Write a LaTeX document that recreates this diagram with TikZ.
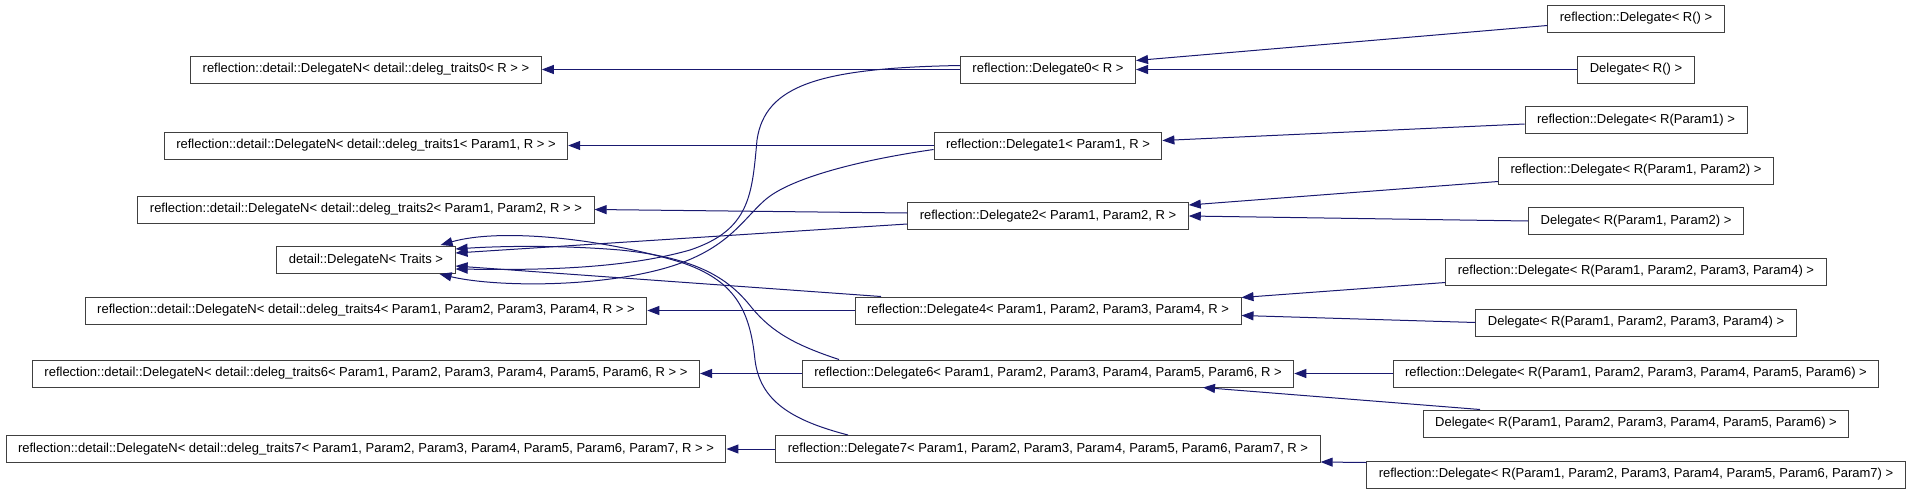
\documentclass[tikz,border=0pt]{standalone}
\usepackage{fontspec}
\setmainfont{Liberation Sans}
\usepackage{xcolor}
\usepackage{tikz}
\usetikzlibrary{arrows.meta,calc}

\definecolor{edgeblue}{HTML}{191970}

\begin{document}
\begin{tikzpicture}[
    x=1pt, y=-1pt,
    cls/.style={draw=black!75, fill=white, line width=1pt, inner xsep=12pt, inner ysep=0pt, minimum height=27pt, font=\fontsize{13}{15}\selectfont},
    edge/.style={-{Triangle[length=12pt,width=9pt]}, draw=edgeblue, line width=1pt}
  ]
    \useasboundingbox (0,0) rectangle (1909,493);

    % bases
    \node[cls] (DN0) at (366,69.5) {reflection::detail::DelegateN< detail::deleg\_traits0< R > >};
    \node[cls] (DN1) at (366,145.5) {reflection::detail::DelegateN< detail::deleg\_traits1< Param1, R > >};
    \node[cls] (DN2) at (366,209.5) {reflection::detail::DelegateN< detail::deleg\_traits2< Param1, Param2, R > >};
    \node[cls] (Traits) at (366,260) {detail::DelegateN< Traits >};
    \node[cls] (DN4) at (366,310.5) {reflection::detail::DelegateN< detail::deleg\_traits4< Param1, Param2, Param3, Param4, R > >};
    \node[cls] (DN6) at (366,373.5) {reflection::detail::DelegateN< detail::deleg\_traits6< Param1, Param2, Param3, Param4, Param5, Param6, R > >};
    \node[cls] (DN7) at (366,449) {reflection::detail::DelegateN< detail::deleg\_traits7< Param1, Param2, Param3, Param4, Param5, Param6, Param7, R > >};

    % DelegateK
    \node[cls] (D0) at (1048,69.5) {reflection::Delegate0< R >};
    \node[cls] (D1) at (1048,145.5) {reflection::Delegate1< Param1, R >};
    \node[cls] (D2) at (1048,216) {reflection::Delegate2< Param1, Param2, R >};
    \node[cls] (D4) at (1048,310.5) {reflection::Delegate4< Param1, Param2, Param3, Param4, R >};
    \node[cls] (D6) at (1048,373.5) {reflection::Delegate6< Param1, Param2, Param3, Param4, Param5, Param6, R >};
    \node[cls] (D7) at (1048,449) {reflection::Delegate7< Param1, Param2, Param3, Param4, Param5, Param6, Param7, R >};

    % Delegate< R(...) >
    \node[cls] (rD0) at (1636,18.5) {reflection::Delegate< R() >};
    \node[cls] (dD0) at (1636,69.5) {Delegate< R() >};
    \node[cls] (rD1) at (1636,120) {reflection::Delegate< R(Param1) >};
    \node[cls] (rD2) at (1636,170.5) {reflection::Delegate< R(Param1, Param2) >};
    \node[cls] (dD2) at (1636,221) {Delegate< R(Param1, Param2) >};
    \node[cls] (rD4) at (1636,271.5) {reflection::Delegate< R(Param1, Param2, Param3, Param4) >};
    \node[cls] (dD4) at (1636,322.5) {Delegate< R(Param1, Param2, Param3, Param4) >};
    \node[cls] (rD6) at (1636,373.5) {reflection::Delegate< R(Param1, Param2, Param3, Param4, Param5, Param6) >};
    \node[cls] (dD6) at (1636,423.5) {Delegate< R(Param1, Param2, Param3, Param4, Param5, Param6) >};
    \node[cls] (rD7) at (1636,474.5) {reflection::Delegate< R(Param1, Param2, Param3, Param4, Param5, Param6, Param7) >};

    \draw[edge] (D0.west) -- (DN0.east);
    \draw[edge] (D1.west) -- (DN1.east);
    \draw[edge] ($(D2.west)+(0,-3)$) -- (DN2.east);
    \draw[edge] (D4.west) -- (DN4.east);
    \draw[edge] (D6.west) -- (DN6.east);
    \draw[edge] (D7.west) -- (DN7.east);

    \draw[edge] ($(rD0.west)+(0,7)$) -- ($(D0.east)+(0,-9)$);
    \draw[edge] (dD0.west) -- (D0.east);
    \draw[edge] ($(rD1.west)+(0,4)$) -- ($(D1.east)+(0,-5)$);
    \draw[edge] ($(rD2.west)+(0,11)$) -- ($(D2.east)+(0,-11)$);
    \draw[edge] (dD2.west) -- (D2.east);
    \draw[edge] ($(rD4.west)+(0,11)$) -- ($(D4.east)+(0,-13)$);
    \draw[edge] (dD4.west) -- ($(D4.east)+(0,5)$);
    \draw[edge] (rD6.west) -- (D6.east);
    \draw[edge] ($(dD6.north)+(-156,0)$) -- ($(D6.south)+(155,0)$);
    \draw[edge] ($(rD7.north west)+(0,2)$) -- ($(D7.south east)+(0,-1)$);

    % all of them down to detail::DelegateN< Traits >
    \draw[edge] ($(D0.west)+(0,-4)$) .. controls (820,68) and (765,85) .. (757,140)
        .. controls (752,195) and (750,230) .. (690,250)
        .. controls (620,270) and (530,270) .. ($(Traits.east)+(0,9)$);
    \draw[edge] ($(D1.west)+(0,4)$) .. controls (860,160) and (790,178) .. (765,200)
        .. controls (740,222) and (725,255) .. (650,272)
        .. controls (580,288) and (490,286) .. ($(Traits.south east)+(-16,0)$);
    \draw[edge] ($(D2.west)+(0,8)$) -- ($(Traits.east)+(0,-7)$);
    \draw[edge] ($(D4.north)+(-167,0)$) -- ($(Traits.east)+(0,6)$);
    \draw[edge] ($(D6.north)+(-209,0)$) .. controls (795,345) and (772,332) .. (752,308)
        .. controls (730,280) and (700,258) .. (620,250)
        .. controls (560,245) and (500,246) .. ($(Traits.east)+(0,-11)$);
    \draw[edge] ($(D7.north)+(-200,0)$) .. controls (790,420) and (760,400) .. (755,360)
        .. controls (750,310) and (735,280) .. (680,262)
        .. controls (600,238) and (500,228) .. ($(Traits.north east)+(-15,-1)$);
\end{tikzpicture}
\end{document}
